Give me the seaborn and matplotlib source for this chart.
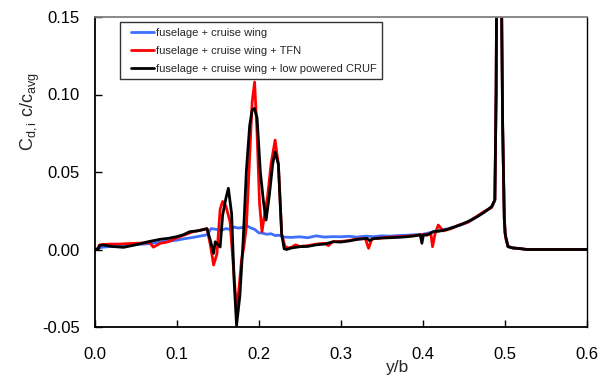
import numpy as np
import pandas as pd
import matplotlib
matplotlib.use("Agg")
import matplotlib.pyplot as plt
from matplotlib.lines import Line2D
from matplotlib.legend_handler import HandlerLine2D
import seaborn as sns

# ---- data ----
blue_x = [0.0, 0.005, 0.01, 0.02, 0.03, 0.04, 0.05, 0.06, 0.07, 0.08, 0.09, 0.10, 0.11, 0.12, 0.13,
          0.137, 0.142, 0.148, 0.155, 0.16, 0.165, 0.17, 0.175, 0.18, 0.185, 0.19, 0.195, 0.2, 0.205,
          0.21, 0.215, 0.22, 0.225, 0.23, 0.24, 0.25, 0.26, 0.27, 0.28, 0.29, 0.30, 0.31, 0.32, 0.33,
          0.34, 0.35, 0.36, 0.37, 0.38, 0.39, 0.40, 0.41, 0.42, 0.43, 0.44, 0.45, 0.46, 0.47, 0.48,
          0.485, 0.488, 0.4895, 0.4905, 0.492, 0.4935, 0.4955, 0.4975, 0.4995, 0.501, 0.504, 0.51,
          0.52, 0.527, 0.6]
blue_y = [0.0, 0.001, 0.0015, 0.002, 0.0025, 0.003, 0.0032, 0.0035, 0.004, 0.0048, 0.0055, 0.006,
          0.007, 0.0078, 0.0088, 0.0095, 0.0135, 0.013, 0.0125, 0.0135, 0.013, 0.0145, 0.0138, 0.0142,
          0.0155, 0.014, 0.013, 0.0108, 0.0105, 0.0098, 0.0102, 0.0090, 0.0092, 0.0080, 0.0078, 0.0082,
          0.0076, 0.0088, 0.0080, 0.0083, 0.0082, 0.0085, 0.0080, 0.0086, 0.0083, 0.0088, 0.0086,
          0.0090, 0.0092, 0.0095, 0.0098, 0.0110, 0.0125, 0.0132, 0.0148, 0.0165, 0.019, 0.0225,
          0.026, 0.028, 0.032, 0.10, 0.20, 0.35, 0.35, 0.20, 0.08, 0.02, 0.008, 0.002, 0.001,
          0.0005, 0.0, 0.0]

red_x = [0.0, 0.003, 0.006, 0.01, 0.02, 0.03, 0.04, 0.05, 0.06, 0.067, 0.0715, 0.075, 0.08, 0.09,
         0.10, 0.11, 0.12, 0.13, 0.137, 0.141, 0.145, 0.149, 0.153, 0.156, 0.16, 0.165, 0.169, 0.173,
         0.176, 0.179, 0.182, 0.185, 0.189, 0.192, 0.195, 0.198, 0.201, 0.204, 0.207, 0.211, 0.215,
         0.22, 0.224, 0.228, 0.232, 0.236, 0.24, 0.245, 0.25, 0.26, 0.27, 0.28, 0.285, 0.29, 0.30,
         0.31, 0.32, 0.33, 0.334, 0.338, 0.35, 0.36, 0.37, 0.38, 0.39, 0.40, 0.41, 0.412, 0.415,
         0.419, 0.425, 0.435, 0.445, 0.455, 0.465, 0.475, 0.484, 0.488, 0.4895, 0.4905, 0.492,
         0.4935, 0.4955, 0.4975, 0.4995, 0.501, 0.504, 0.51, 0.52, 0.527, 0.6]
red_y = [0.0, 0.0, 0.003, 0.0032, 0.0035, 0.0035, 0.0038, 0.004, 0.0042, 0.0045, 0.0015, 0.0025,
         0.0040, 0.005, 0.0075, 0.0095, 0.0115, 0.0125, 0.0135, 0.003, -0.010, -0.003, 0.026, 0.031,
         0.028, 0.018, -0.010, -0.039, -0.025, -0.007, 0.002, 0.015, 0.06, 0.095, 0.108, 0.075, 0.03,
         0.0115, 0.022, 0.035, 0.055, 0.0706, 0.055, 0.01, 0.002, 0.001, 0.0015, 0.003, 0.002, 0.0025,
         0.0035, 0.004, 0.0025, 0.005, 0.0052, 0.0058, 0.0068, 0.007, 0.0008, 0.0068, 0.0075, 0.008,
         0.0082, 0.0085, 0.009, 0.0095, 0.010, 0.0018, 0.010, 0.0158, 0.012, 0.0135, 0.016, 0.0175,
         0.021, 0.0245, 0.027, 0.032, 0.10, 0.20, 0.35, 0.35, 0.20, 0.08, 0.02, 0.008, 0.002, 0.001,
         0.0005, 0.0, 0.0]

black_x = [0.0, 0.004, 0.006, 0.01, 0.02, 0.035, 0.05, 0.065, 0.08, 0.09, 0.10, 0.108, 0.116, 0.125,
           0.137, 0.141, 0.145, 0.147, 0.153, 0.156, 0.160, 0.163, 0.167, 0.170, 0.173, 0.177, 0.181,
           0.185, 0.189, 0.192, 0.1947, 0.198, 0.202, 0.206, 0.209, 0.213, 0.217, 0.22, 0.224, 0.228,
           0.231, 0.234, 0.24, 0.25, 0.26, 0.27, 0.28, 0.291, 0.30, 0.31, 0.32, 0.332, 0.335, 0.34,
           0.35, 0.36, 0.372, 0.38, 0.39, 0.397, 0.399, 0.401, 0.405, 0.413, 0.42, 0.43, 0.4455,
           0.455, 0.466, 0.475, 0.484, 0.488, 0.4895, 0.4905, 0.492, 0.4935, 0.4955, 0.4975, 0.4995,
           0.5004, 0.504, 0.51, 0.52, 0.527, 0.6]
black_y = [0.0, 0.0, 0.0025, 0.003, 0.002, 0.0014, 0.003, 0.005, 0.0066, 0.0072, 0.0083, 0.0095,
           0.0115, 0.012, 0.0134, 0.006, -0.0025, 0.005, 0.0016, 0.022, 0.033, 0.0395, 0.023, -0.02,
           -0.049, -0.03, 0.005, 0.051, 0.08, 0.09, 0.091, 0.085, 0.05, 0.03, 0.019, 0.035, 0.055,
           0.063, 0.055, 0.01, 0.0005, 0.0, 0.001, 0.0018, 0.002, 0.003, 0.0035, 0.005, 0.0048,
           0.0055, 0.0065, 0.0072, 0.0058, 0.007, 0.0074, 0.0076, 0.0079, 0.0082, 0.0088, 0.0095,
           0.004, 0.0095, 0.0092, 0.0115, 0.0118, 0.013, 0.0158, 0.018, 0.021, 0.024, 0.0276, 0.032,
           0.10, 0.20, 0.35, 0.35, 0.20, 0.08, 0.02, 0.0105, 0.0018, 0.001, 0.0005, 0.0, 0.0]

labels = ["fuselage + cruise wing",
          "fuselage + cruise wing + TFN",
          "fuselage + cruise wing + low powered CRUF"]
colors = ["#3f6fff", "#ff0000", "#000000"]
x_ticks = [0.0, 0.1, 0.2, 0.3, 0.4, 0.5, 0.6]
y_ticks = [-0.05, 0.0, 0.05, 0.10, 0.15]

df = pd.concat([
    pd.DataFrame({"x": blue_x, "y": blue_y, "series": labels[0]}),
    pd.DataFrame({"x": red_x, "y": red_y, "series": labels[1]}),
    pd.DataFrame({"x": black_x, "y": black_y, "series": labels[2]}),
], ignore_index=True)

sns.set_style("white")
plt.rcParams["font.family"] = ["Liberation Sans", "DejaVu Sans"]
plt.rcParams["mathtext.fontset"] = "custom"
plt.rcParams["mathtext.rm"] = "Liberation Sans"
plt.rcParams["mathtext.it"] = "Liberation Sans"

fig = plt.figure(figsize=(6.13, 3.81), dpi=100)
ax = fig.add_axes([94.7 / 613, 54 / 381, 492 / 613, 310 / 381])

sns.lineplot(data=df, x="x", y="y", hue="series", hue_order=labels, palette=colors,
             estimator=None, sort=False, linewidth=2.0, ax=ax)

ax.set_xlim(0.0, 0.6)
ax.set_ylim(-0.05, 0.15)
ax.set_xticks(x_ticks)
ax.set_xticklabels([f"{v:.1f}" for v in x_ticks])
ax.set_yticks(y_ticks)
ax.set_yticklabels([f"{v:.2f}" for v in y_ticks])
ax.tick_params(direction="in", length=5, width=1, colors="black", labelsize=12,
               bottom=True, left=True, top=False, right=False)
ax.tick_params(axis="y", pad=10.5)
ax.tick_params(axis="x", pad=14.5)

for side in ["left", "bottom"]:
    ax.spines[side].set_color("black")
    ax.spines[side].set_linewidth(1.3)
ax.spines["top"].set_color("#808080")
ax.spines["top"].set_linewidth(1.3)
ax.spines["right"].set_color("black")
ax.spines["right"].set_linewidth(1.0)

ax.set_xlabel("y/b", fontsize=12.5)
ax.xaxis.set_label_coords(0.616, -0.106)
ax.set_ylabel(r"C$_\mathregular{d,i}$ c/c$_\mathregular{avg}$", fontsize=13)
ax.yaxis.set_label_coords(-0.108, 0.695)

leg = ax.legend(loc="upper left", bbox_to_anchor=(0.051, 0.984), fontsize=8,
                frameon=True, fancybox=False, handlelength=2.6, handletextpad=0.15,
                borderpad=0.5, labelspacing=0.72, borderaxespad=0,
                handler_map={Line2D: HandlerLine2D(xpad=0.5)})
leg.get_frame().set_edgecolor("black")
leg.get_frame().set_linewidth(1.0)
for line in leg.get_lines():
    line.set_linewidth(2.0)

fig.savefig("out.png", dpi=100)
